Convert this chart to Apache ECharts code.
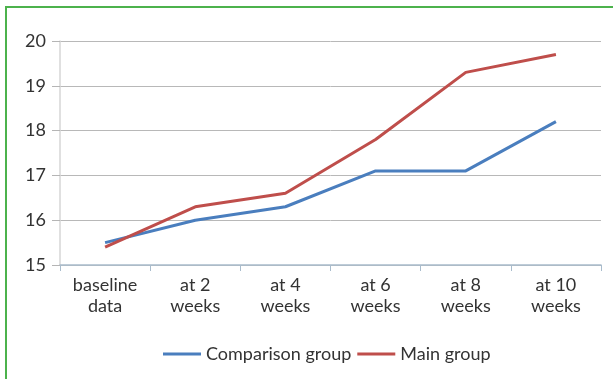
<!DOCTYPE html>
<html><head><meta charset="utf-8">
<script src="https://cdn.jsdelivr.net/npm/echarts@6/dist/echarts.min.js"></script>
<style>html,body{margin:0;padding:0;background:#fff}#c{width:613px;height:379px}
#frame{position:absolute;left:5px;top:6px;width:620px;height:380px;border:2px solid #4cb24c;box-sizing:border-box;pointer-events:none}</style>
</head><body><div id="c"></div><div id="frame"></div>
<script>
const categories = ['baseline\ndata', 'at 2\nweeks', 'at 4\nweeks', 'at 6\nweeks', 'at 8\nweeks', 'at 10\nweeks'];
const comparisonGroup = [15.5, 16.0, 16.3, 17.1, 17.1, 18.2];
const mainGroup = [15.4, 16.3, 16.6, 17.8, 19.3, 19.7];
const seriesNames = ['Comparison group', 'Main group'];
const chart = echarts.init(document.getElementById('c'));
const font = 'Lato, "Open Sans", sans-serif';
chart.setOption({
  animation: false,
  textStyle: {fontFamily: font},
  grid: {left: 60, right: 12, top: 41, bottom: 114},
  legend: {
    bottom: 11, left: 158, itemWidth: 38, itemHeight: 3, itemGap: 6,
    icon: 'rect',
    textStyle: {fontSize: 18, color: '#333', fontFamily: font},
    data: seriesNames
  },
  xAxis: {
    type: 'category', data: categories, boundaryGap: true,
    axisLine: {lineStyle: {color: '#a9bccc', width: 1.5}},
    axisTick: {show: true, length: 6, lineStyle: {color: '#a9bccc'}},
    axisLabel: {fontSize: 18, color: '#333', lineHeight: 21, margin: 10, fontFamily: font}
  },
  yAxis: {
    type: 'value', min: 15, max: 20, interval: 1,
    axisLine: {show: true, lineStyle: {color: '#d6d6d6', width: 1.5}},
    axisTick: {show: true, length: 8, lineStyle: {color: '#b5b5b5'}},
    splitLine: {lineStyle: {color: '#b8b8b8', width: 1}},
    axisLabel: {fontSize: 18, color: '#333', margin: 14, fontFamily: font}
  },
  series: [
    {name: seriesNames[0], type: 'line', data: comparisonGroup, symbol: 'none',
     lineStyle: {color: '#4a7ebe', width: 3}, itemStyle: {color: '#4a7ebe'}},
    {name: seriesNames[1], type: 'line', data: mainGroup, symbol: 'none',
     lineStyle: {color: '#bf4e4b', width: 3}, itemStyle: {color: '#bf4e4b'}}
  ]
});
</script></body></html>
